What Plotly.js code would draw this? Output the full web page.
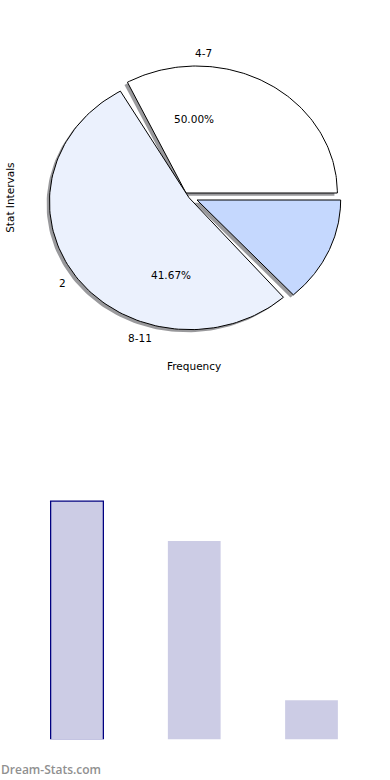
<!DOCTYPE html>
<html>
<head>
<meta charset="utf-8">
<script src="https://cdn.plot.ly/plotly-3.0.1.min.js"></script>
<style>html,body{margin:0;padding:0;background:#fff;}#chart{width:390px;height:780px;}</style>
</head>
<body>
<div id="chart"></div>
<script>
// ---- data ----
const freq = [6, 5, 1];                       // class frequencies (bars + pie percentages)
const sliceLabels = ['4-7', '8-11'];          // outer labels at frequency mid-angles
const extraLabel = '2';                        // outer label at the big wedge
const wedgeStartDeg = [0, 119.7, 312];         // drawn wedge spans as read
const wedgeEndDeg = [119.3, 311.7, 360];
const xTitle = 'Frequency';
const yTitle = 'Stat Intervals';
const watermark = 'Dream-Stats.com';

// ---- styling / geometry of the drawn (exploded, stretched) pie ----
const wedgeColors = ['#ffffff', '#ebf1fd', '#c5d8fe'];
const arcCenter = [[0.0166, 0.0379], [-0.0276, -0.0303], [0.0255, -0.0152]];
const tipPoint  = [[-0.0552, 0.0379], [-0.0345, 0.0023], [0.0207, -0.0152]];
const arcRadius = [[0.972, 0.962], [0.969, 0.967], [0.986, 0.967]];
const shadowShift = [-0.02, -0.02];
const barColor = '#cccce5';
const txtFont = {family: 'DejaVu Sans', size: 10.5, color: '#000'};

const total = freq.reduce((a, b) => a + b, 0);
const traces = [];
const rad = d => d * Math.PI / 180;

function wedgePath(i, sx, sy) {
  const vx = tipPoint[i][0] + sx, vy = tipPoint[i][1] + sy;
  const cx = arcCenter[i][0] + sx, cy = arcCenter[i][1] + sy;
  const xs = [vx], ys = [vy];
  const n = 120;
  for (let k = 0; k <= n; k++) {
    const a = rad(wedgeStartDeg[i] + (wedgeEndDeg[i] - wedgeStartDeg[i]) * k / n);
    xs.push(cx + arcRadius[i][0] * Math.cos(a));
    ys.push(cy + arcRadius[i][1] * Math.sin(a));
  }
  xs.push(vx); ys.push(vy);
  return [xs, ys];
}

// shadows first
for (let i = 0; i < wedgeStartDeg.length; i++) {
  const [xs, ys] = wedgePath(i, shadowShift[0], shadowShift[1]);
  traces.push({type: 'scatter', mode: 'lines', x: xs, y: ys, fill: 'toself',
    fillcolor: 'rgba(70,70,75,0.55)', line: {width: 0, color: 'rgba(0,0,0,0)'},
    hoverinfo: 'skip', showlegend: false, xaxis: 'x', yaxis: 'y'});
}
for (let i = 0; i < wedgeStartDeg.length; i++) {
  const [xs, ys] = wedgePath(i, 0, 0);
  traces.push({type: 'scatter', mode: 'lines', x: xs, y: ys, fill: 'toself',
    fillcolor: wedgeColors[i], line: {width: 1, color: '#000'},
    hoverinfo: 'skip', showlegend: false, xaxis: 'x', yaxis: 'y'});
}

// bars
traces.push({type: 'bar', x: freq.map((v, i) => i), y: freq, width: 0.45,
  marker: {color: barColor, line: {color: ['#000080', 'rgba(0,0,0,0)', 'rgba(0,0,0,0)'], width: [1.3, 0, 0]}},
  hoverinfo: 'skip', showlegend: false, xaxis: 'x2', yaxis: 'y2'});

// annotations
const ann = [];
let cum = 0;
const mids = freq.map(v => { const m = (cum + v / 2) / total * 360; cum += v; return m; });
sliceLabels.forEach((lab, i) => {
  const a = rad(mids[i]);
  const x = 1.1 * Math.cos(a), y = 1.1 * Math.sin(a);
  ann.push({xref: 'x', yref: 'y', x: x, y: y, text: lab, showarrow: false,
    xanchor: x > 0 ? 'left' : 'right', yanchor: 'middle', font: txtFont, borderpad: 0});
  const pct = (freq[i] / total * 100).toFixed(2) + '%';
  ann.push({xref: 'x', yref: 'y', x: 0.6 * Math.cos(a), y: 0.6 * Math.sin(a), text: pct,
    showarrow: false, xanchor: 'center', yanchor: 'middle', font: txtFont, borderpad: 0});
});
{
  const a = rad((wedgeStartDeg[1] + wedgeEndDeg[1]) / 2);
  const x = 1.1 * Math.cos(a), y = 1.1 * Math.sin(a);
  ann.push({xref: 'x', yref: 'y', x: x + 0.02, y: y, text: extraLabel, showarrow: false,
    xanchor: x > 0 ? 'left' : 'right', yanchor: 'middle', font: txtFont, borderpad: 0});
}
ann.push({xref: 'paper', yref: 'paper', x: 9.3 / 390, y: 1 - 197.5 / 780, text: yTitle,
  textangle: -90, showarrow: false, xanchor: 'center', yanchor: 'middle', font: txtFont, borderpad: 0});
ann.push({xref: 'paper', yref: 'paper', x: 0.497, y: 1 - 366 / 780, text: xTitle,
  showarrow: false, xanchor: 'center', yanchor: 'middle', font: txtFont, borderpad: 0});
ann.push({xref: 'paper', yref: 'paper', x: 0, y: 1 - 769 / 780, text: watermark,
  showarrow: false, xanchor: 'left', yanchor: 'middle', borderpad: 0,
  font: {family: 'Open Sans', size: 12, color: '#909090', weight: 600}});

const hidden = {visible: false, showgrid: false, zeroline: false, fixedrange: true};
// bar panel: value 0 sits at pixel 740, 39.8 px per unit; the plot area stops
// just above the baseline so the outline's bottom edge is clipped away
const yPerUnit = 39.8, zeroPx = 740, clipPx = 739.3;
const barLow = (zeroPx - clipPx) / yPerUnit;
const layout = {
  width: 390, height: 780,
  margin: {l: 0, r: 0, t: 0, b: 0, pad: 0},
  paper_bgcolor: '#fff', plot_bgcolor: 'rgba(0,0,0,0)',
  xaxis: Object.assign({domain: [0, 1], range: [-194 / 145, 196 / 145], anchor: 'y'}, hidden),
  yaxis: Object.assign({domain: [0.5, 1], range: [-192 / 132, 198 / 132], anchor: 'x'}, hidden),
  xaxis2: Object.assign({domain: [0, 1], range: [-77 / 117.25, 313 / 117.25], anchor: 'y2'}, hidden),
  yaxis2: Object.assign({domain: [(780 - clipPx) / 780, 0.5],
    range: [barLow, barLow + (clipPx - 390) / yPerUnit], anchor: 'x2'}, hidden),
  annotations: ann,
  showlegend: false
};
Plotly.newPlot('chart', traces, layout, {staticPlot: true, displayModeBar: false});
</script>
</body>
</html>
